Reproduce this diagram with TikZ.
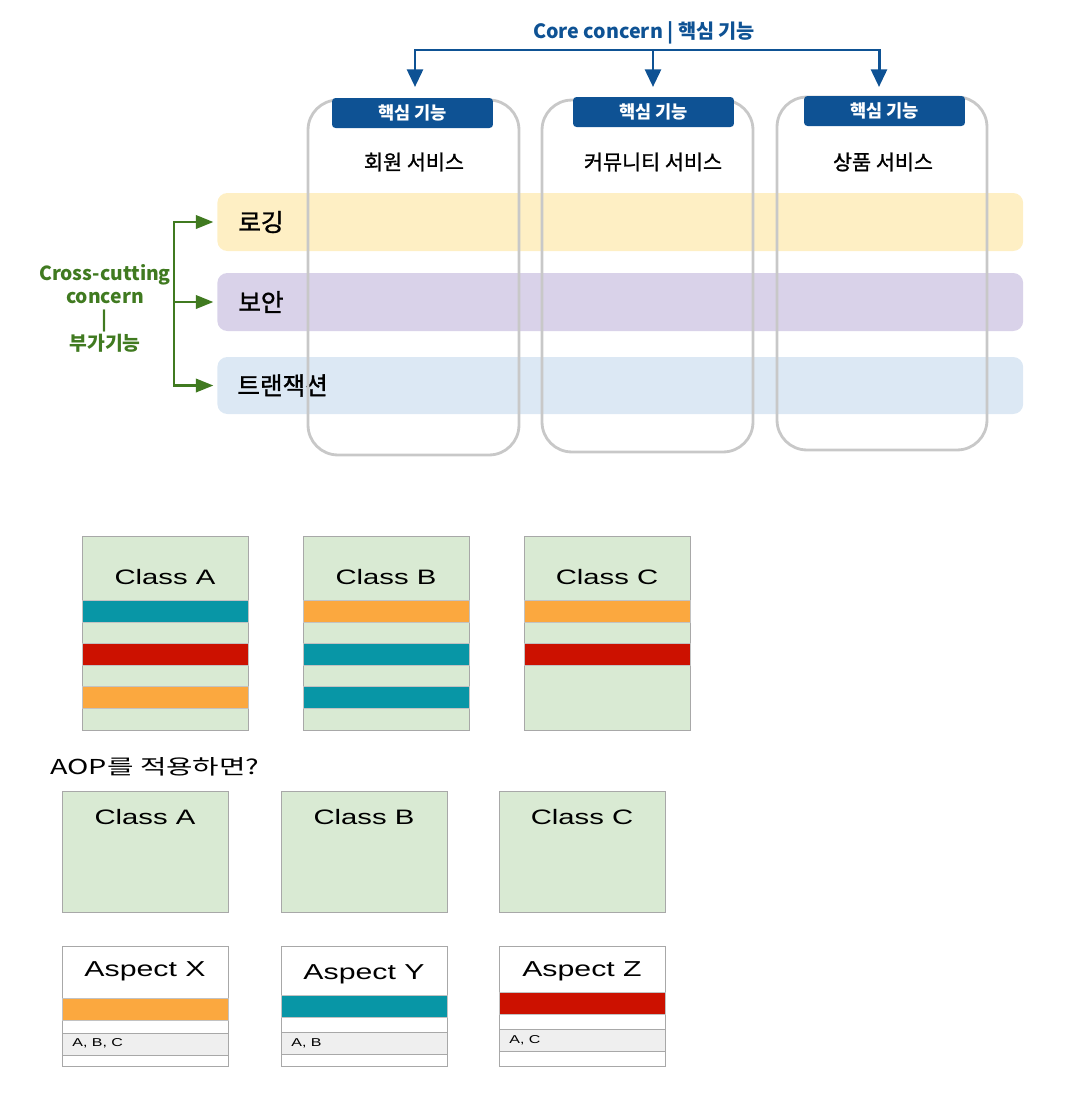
\documentclass[tikz,border=0pt]{standalone}
\usepackage{fontspec}
\setmainfont{Liberation Sans}
\newfontfamily\kr{Noto Sans CJK KR}
\newfontfamily\krheavy[FakeBold=1.2]{Noto Sans CJK KR}
\newfontfamily\krwide[FakeStretch=1.4]{Noto Sans CJK KR}
\newfontfamily\sanswide[FakeStretch=1.4]{Liberation Sans}
\usetikzlibrary{arrows.meta}

\definecolor{coreblue}{RGB}{14,82,148}
\definecolor{crossgreen}{RGB}{64,122,32}
\definecolor{colgray}{RGB}{200,200,200}
\definecolor{logyellow}{RGB}{254,239,196}
\definecolor{secpurple}{RGB}{217,210,233}
\definecolor{txblue}{RGB}{220,232,244}
\definecolor{classgreen}{RGB}{217,234,211}
\definecolor{boxgray}{RGB}{168,168,168}
\definecolor{rowgray}{RGB}{239,239,239}
\definecolor{stteal}{RGB}{8,150,166}
\definecolor{stred}{RGB}{204,17,0}
\definecolor{storange}{RGB}{251,168,63}

\tikzset{
  coretip/.tip={Triangle[length=10pt,width=9pt]},
  crosstip/.tip={Triangle[length=10pt,width=7.5pt]}}

\begin{document}
\begin{tikzpicture}[x=0.02cm,y=-0.02cm,
  band/.style={rounded corners=5.7pt,minimum width=16.12cm,inner sep=0,anchor=west},
  bandlabel/.style={anchor=west,inner sep=0,font=\krheavy\fontsize{14}{16}\selectfont},
  colbox/.style={draw=colgray,line width=1.6pt,rounded corners=17pt,inner sep=0},
  badge/.style={fill=coreblue,text=white,rounded corners=2pt,inner sep=0,
    minimum width=3.22cm,minimum height=0.6cm,font=\kr\bfseries\fontsize{10}{12}\selectfont},
  svc/.style={inner sep=0,font=\krheavy\fontsize{11.8}{14}\selectfont},
  coreline/.style={draw=coreblue,line width=1.7pt},
  crossline/.style={draw=crossgreen,line width=1.7pt},
  classbox/.style={draw=boxgray,fill=classgreen,minimum width=3.32cm,inner sep=0,anchor=north west},
  aspectbox/.style={draw=boxgray,fill=white,minimum width=3.32cm,minimum height=2.4cm,inner sep=0,anchor=north west},
  stripe/.style={draw=boxgray!70,minimum width=3.32cm,minimum height=0.44cm,inner sep=0,anchor=north west},
  refrow/.style={draw=boxgray,fill=rowgray,minimum width=3.32cm,minimum height=0.43cm,inner sep=0,anchor=north west},
  classtitle/.style={inner sep=0,font=\sanswide\fontsize{11.9}{14}\selectfont},
  reftext/.style={anchor=west,inner sep=0,font=\sanswide\fontsize{6.5}{8}\selectfont}]
  \useasboundingbox (0,0) rectangle (1080,1106);

  % cross-cutting bands
  \node[band,fill=logyellow,minimum height=1.16cm] (log) at (217,222) {};
  \node[band,fill=secpurple,minimum height=1.16cm] (sec) at (217,302) {};
  \node[band,fill=txblue,minimum height=1.14cm] (tx) at (217,385.5) {};
  \node[bandlabel] (logt) at (238,222) {로깅};
  \node[bandlabel] (sect) at (238,302) {보안};
  \node[bandlabel] (txt) at (237,385.5) {트랜잭션};

  % service columns
  \node[colbox,minimum width=4.22cm,minimum height=7.1cm] (col1) at (413.5,277.5) {};
  \node[colbox,minimum width=4.22cm,minimum height=7.04cm] (col2) at (647.5,276) {};
  \node[colbox,minimum width=4.2cm,minimum height=7.06cm] (col3) at (882,273.5) {};
  \node[badge] (b1) at (412.5,113) {핵심 기능};
  \node[badge] (b2) at (653.5,112) {핵심 기능};
  \node[badge] (b3) at (884.5,111) {핵심 기능};
  \node[svc] (s1) at (414,162) {회원 서비스};
  \node[svc] (s2) at (653,162) {커뮤니티 서비스};
  \node[svc] (s3) at (883,162) {상품 서비스};

  % core concern
  \node[inner sep=0,text=coreblue,font=\kr\bfseries\fontsize{11.2}{13}\selectfont] (core) at (644,33) {Core concern | 핵심 기능};
  \coordinate (h1) at (415,50);
  \coordinate (h2) at (653,50);
  \coordinate (h3) at (879,50);
  \coordinate (a1) at (415,87);
  \coordinate (a2) at (653,87);
  \coordinate (a3) at (879,87);
  \draw[coreline,coretip-coretip] (a1) -- (h1) -- (h3) -- (a3);
  \draw[coreline,-coretip] (h2) -- (a2);

  % cross-cutting concern
  \node[align=center,inner sep=0,text=crossgreen,font=\kr\bfseries\fontsize{11}{13.3}\selectfont] (cross) at (105,308) {Cross-cutting\\concern\\|\\부가기능};
  \coordinate (g1) at (174,222);
  \coordinate (g2) at (174,302);
  \coordinate (g3) at (174,385.5);
  \draw[crossline,crosstip-crosstip,shorten <=2pt,shorten >=2pt] (log.west) -- (g1) -- (g3) -- (tx.west);
  \draw[crossline,-crosstip,shorten >=2pt] (g2) -- (sec.west);

  % classes without AOP
  \node[classbox,minimum height=3.88cm] (ca) at (82,536) {};
  \node[classbox,minimum height=3.88cm] (cb) at (303,536) {};
  \node[classbox,minimum height=3.88cm] (cc) at (524,536) {};
  \node[classtitle] (cat) at (165,577) {Class A};
  \node[classtitle] (cbt) at (386,577) {Class B};
  \node[classtitle] (cct) at (607,577) {Class C};
  \node[stripe,fill=stteal] (ca1) at (82,600) {};
  \node[stripe,fill=stred] (ca2) at (82,643) {};
  \node[stripe,fill=storange] (ca3) at (82,686) {};
  \node[stripe,fill=storange] (cb1) at (303,600) {};
  \node[stripe,fill=stteal] (cb2) at (303,643) {};
  \node[stripe,fill=stteal] (cb3) at (303,686) {};
  \node[stripe,fill=storange] (cc1) at (524,600) {};
  \node[stripe,fill=stred] (cc2) at (524,643) {};

  \node[anchor=west,inner sep=0,font=\krwide\fontsize{11.7}{14}\selectfont] (aop) at (50,767) {AOP를 적용하면?};

  % classes with AOP
  \node[classbox,minimum height=2.42cm] (na) at (62,791) {};
  \node[classbox,minimum height=2.42cm] (nb) at (281,791) {};
  \node[classbox,minimum height=2.42cm] (nc) at (499,791) {};
  \node[classtitle] (nat) at (145,817) {Class A};
  \node[classtitle] (nbt) at (364,817) {Class B};
  \node[classtitle] (nct) at (582,817) {Class C};

  % aspects
  \node[aspectbox] (ax) at (62,946) {};
  \node[aspectbox] (ay) at (281,946) {};
  \node[aspectbox] (az) at (499,946) {};
  \node[classtitle,font=\sanswide\fontsize{12.3}{14}\selectfont] (axt) at (145,971) {Aspect X};
  \node[classtitle,font=\sanswide\fontsize{12.3}{14}\selectfont] (ayt) at (364,974) {Aspect Y};
  \node[classtitle,font=\sanswide\fontsize{12.3}{14}\selectfont] (azt) at (582,971) {Aspect Z};
  \node[stripe,fill=storange] (ax1) at (62,998) {};
  \node[stripe,fill=stteal] (ay1) at (281,995) {};
  \node[stripe,fill=stred] (az1) at (499,992) {};
  \node[refrow] (axr) at (62,1033) {};
  \node[refrow] (ayr) at (281,1032) {};
  \node[refrow] (azr) at (499,1029) {};
  \node[reftext] (axs) at (72,1043.5) {A, B, C};
  \node[reftext] (ays) at (291,1043) {A, B};
  \node[reftext] (azs) at (509,1040) {A, C};
\end{tikzpicture}
\end{document}
